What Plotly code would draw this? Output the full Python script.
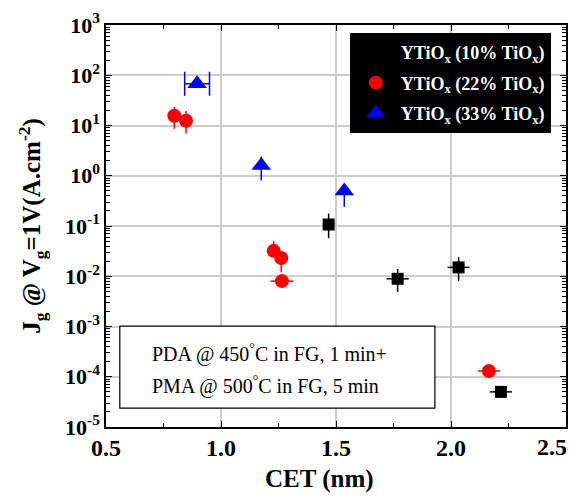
import plotly.graph_objects as go

# ---- data ----
cet_10 = [1.468, 1.768, 2.033, 2.217]
jg_10 = [0.107, 0.0089, 0.015, 5e-5]
jg_10_plus = [0.07, 0.005, 0.009, 0]
jg_10_minus = [0.05, 0.004, 0.007, 0]
cet_10_err = [0, 0.048, 0.048, 0.048]

cet_22 = [0.797, 0.848, 1.229, 1.262, 1.265, 2.165]
jg_22 = [15.6, 12.4, 0.032, 0.023, 0.008, 1.3e-4]
jg_22_plus = [8, 7, 0.018, 0, 0, 0]
jg_22_minus = [7, 5.5, 0, 0.011, 0, 0]
cet_22_err = [0, 0, 0, 0, 0.05, 0.048]

cet_33 = [0.896, 1.175, 1.536]
jg_33 = [68, 1.6, 0.5]
jg_33_plus = [0, 0.8, 0.1]
jg_33_minus = [0, 0.8, 0.26]
cet_33_err = [0.054, 0, 0]

names = ["YTiO<sub>x</sub> (10% TiO<sub>x</sub>)",
         "YTiO<sub>x</sub> (22% TiO<sub>x</sub>)",
         "YTiO<sub>x</sub> (33% TiO<sub>x</sub>)"]

x_ticks = [0.5, 1.0, 1.5, 2.0, 2.5]
x_ticktext = ["0.5", "1.0", "1.5", "2.0", "2.5"]
y_exps = [-5, -4, -3, -2, -1, 0, 1, 2, 3]

FONT = "Liberation Serif"

fig = go.Figure()

fig.add_trace(go.Scatter(
    x=cet_10, y=jg_10, mode="markers", name=names[0], legendgroup="a",
    marker=dict(symbol="square", size=12, color="black"),
    error_y=dict(type="data", array=jg_10_plus, arrayminus=jg_10_minus,
                 color="black", thickness=1.5, width=0),
    error_x=dict(type="data", array=cet_10_err, color="black", thickness=1.5, width=0),
))
fig.add_trace(go.Scatter(
    x=cet_22, y=jg_22, mode="markers", name=names[1], legendgroup="b",
    marker=dict(symbol="circle", size=14, color="red"),
    error_y=dict(type="data", array=jg_22_plus, arrayminus=jg_22_minus,
                 color="red", thickness=1.5, width=0),
    error_x=dict(type="data", array=cet_22_err, color="red", thickness=1.5, width=0),
))
fig.add_trace(go.Scatter(
    x=cet_33[1:], y=jg_33[1:], mode="markers", name=names[2], legendgroup="c",
    marker=dict(symbol="triangle-up", size=17, color="blue"),
    error_y=dict(type="data", array=jg_33_plus[1:], arrayminus=jg_33_minus[1:],
                 color="blue", thickness=1.5, width=0),
))
fig.add_trace(go.Scatter(
    x=cet_33[:1], y=jg_33[:1], mode="markers", name=names[2], legendgroup="c",
    showlegend=False,
    marker=dict(symbol="triangle-up", size=17, color="blue"),
    error_x=dict(type="data", array=cet_33_err[:1], color="blue", thickness=1.5, width=12),
))

axis_common = dict(
    showline=True, linecolor="black", linewidth=1.5, mirror="allticks",
    ticks="inside", ticklen=6, tickcolor="black",
    gridcolor="#cccccc", gridwidth=1.5, zeroline=False, automargin=False,
)

xfont = dict(family=FONT, size=24, color="black", weight="bold")

# last x tick label is drawn separately so that it stays inside the page
fig.update_xaxes(
    range=[0.5, 2.5], tickvals=x_ticks, ticktext=x_ticktext[:-1] + [""],
    tickfont=xfont, ticklabelstandoff=-2,
    minor=dict(dtick=0.25, tick0=0.5, ticks="inside", ticklen=4, tickcolor="black", showgrid=False),
    **axis_common,
)
fig.add_annotation(xref="paper", yref="paper", x=1.0065, y=-0.05, xanchor="right", yanchor="middle",
                   text=x_ticktext[-1], showarrow=False, font=xfont)

fig.update_yaxes(
    type="log", range=[-5, 3],
    tickvals=[10.0 ** e for e in y_exps],
    ticktext=["10<sup>%d</sup>" % e for e in y_exps],
    tickfont=dict(family=FONT, size=22, color="black", weight="bold"),
    title=dict(text="J<sub>g</sub> @ V<sub>g</sub>=1V(A.cm<sup>-2</sup>)",
               font=dict(family=FONT, size=25, color="black", weight="bold"), standoff=17),
    minor=dict(dtick="D1", ticks="inside", ticklen=4, tickcolor="black", showgrid=False),
    **axis_common,
)

# x-axis title (sits slightly left of the axis centre in the reference)
fig.add_annotation(xref="paper", yref="paper", x=0.465, y=-0.129, xanchor="center", yanchor="middle",
                   text="CET (nm)", showarrow=False,
                   font=dict(family=FONT, size=25, color="black", weight="bold"))

fig.add_shape(type="rect", xref="paper", yref="paper",
              x0=0.030, x1=0.715, y0=0.047, y1=0.251,
              line=dict(color="black", width=1.2), fillcolor="white", layer="above")
fig.add_annotation(xref="paper", yref="paper", x=0.0957, y=0.184, xanchor="left", yanchor="middle",
                   text="PDA @ 450<sup>°</sup>C in FG, 1 min+", showarrow=False,
                   font=dict(family=FONT, size=20, color="black"))
fig.add_annotation(xref="paper", yref="paper", x=0.0957, y=0.104, xanchor="left", yanchor="middle",
                   text="PMA @ 500<sup>°</sup>C in FG, 5 min", showarrow=False,
                   font=dict(family=FONT, size=20, color="black"))

fig.update_layout(
    width=569, height=496,
    margin=dict(l=106, r=3, t=25, b=69),
    paper_bgcolor="white", plot_bgcolor="white",
    legend=dict(x=0.967, y=0.980, xanchor="right", yanchor="top",
                bgcolor="black", bordercolor="black", borderwidth=1,
                font=dict(family=FONT, size=18, color="white", weight="bold"),
                tracegroupgap=4, itemwidth=40),
)

fig.write_html("out.html", config={"displayModeBar": False},
               post_script="document.body.style.margin='0';document.body.style.overflow='hidden';")
